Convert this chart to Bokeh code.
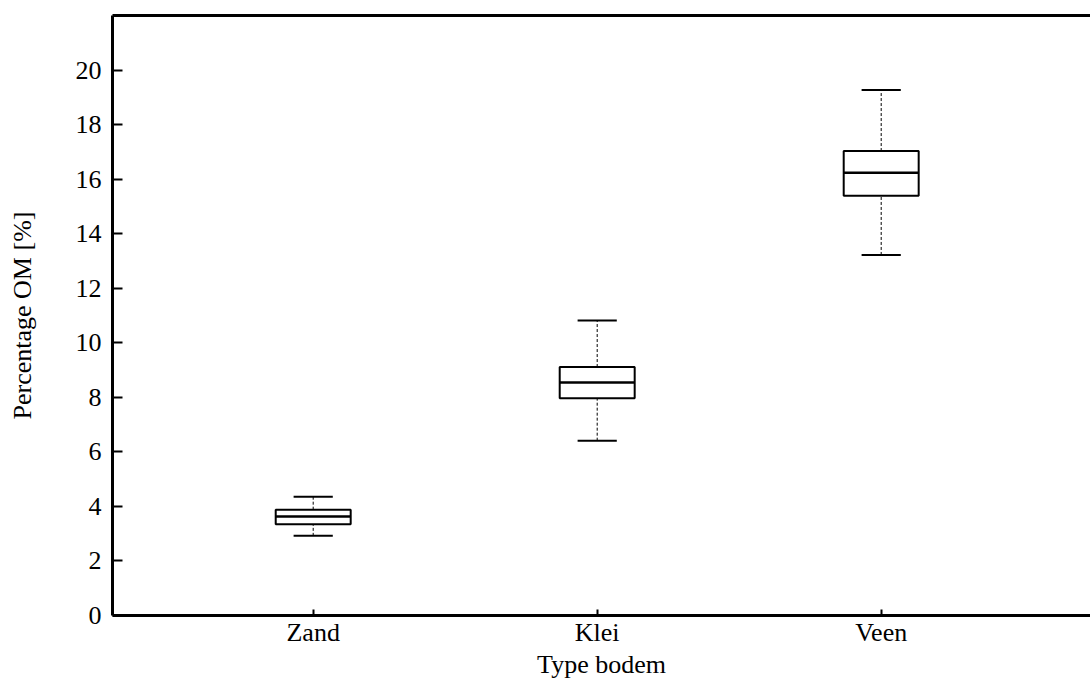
from bokeh.plotting import figure
from bokeh.models import Range1d, FixedTicker, LinearAxis
from bokeh.embed import file_html
from bokeh.resources import INLINE

categories = ["Zand", "Klei", "Veen"]
lower_whisker = [2.92, 6.41, 13.22]
q1 = [3.35, 7.97, 15.39]
median = [3.63, 8.54, 16.23]
q3 = [3.88, 9.11, 17.03]
upper_whisker = [4.35, 10.82, 19.27]
y_ticks = [0, 2, 4, 6, 8, 10, 12, 14, 16, 18, 20]

FONT = "Liberation Serif"
pos = [i + 1 for i in range(len(categories))]
box_half = 0.132
cap_half = 0.069

p = figure(width=1090, height=683, output_backend="svg", toolbar_location=None,
           x_range=Range1d(0.2933, 3.737), y_range=Range1d(0, 22),
           min_border_left=112, min_border_right=0, min_border_top=15, min_border_bottom=68)
p.outline_line_color = None
p.grid.visible = False
p.background_fill_color = "white"
p.border_fill_color = "white"

# whiskers (dashed)
p.segment(x0=pos, y0=q3, x1=pos, y1=upper_whisker, line_color="black", line_width=1, line_dash="3 2")
p.segment(x0=pos, y0=lower_whisker, x1=pos, y1=q1, line_color="black", line_width=1, line_dash="3 2")
# caps
p.segment(x0=[x - cap_half for x in pos], y0=upper_whisker, x1=[x + cap_half for x in pos], y1=upper_whisker,
          line_color="black", line_width=2)
p.segment(x0=[x - cap_half for x in pos], y0=lower_whisker, x1=[x + cap_half for x in pos], y1=lower_whisker,
          line_color="black", line_width=2)
# boxes
p.quad(left=[x - box_half for x in pos], right=[x + box_half for x in pos], bottom=q1, top=q3,
       fill_color="white", line_color="black", line_width=2)
# medians
p.segment(x0=[x - box_half for x in pos], y0=median, x1=[x + box_half for x in pos], y1=median,
          line_color="black", line_width=2.5)

# axes
xa = p.xaxis[0]
xa.ticker = FixedTicker(ticks=pos)
xa.major_label_overrides = {x: c for x, c in zip(pos, categories)}
xa.axis_label = "Type bodem"
ya = p.yaxis[0]
ya.ticker = FixedTicker(ticks=y_ticks)
ya.axis_label = "Percentage OM [%]"
for ax in (xa, ya):
    ax.axis_line_width = 3
    ax.axis_line_color = "black"
    ax.major_tick_line_width = 2
    ax.major_tick_line_color = "black"
    ax.major_tick_out = 0
    ax.minor_tick_line_color = None
    ax.major_label_text_font = FONT
    ax.major_label_text_font_size = "26px"
    ax.major_label_text_color = "black"
    ax.axis_label_text_font = FONT
    ax.axis_label_text_font_size = "26px"
    ax.axis_label_text_font_style = "normal"
    ax.axis_label_text_color = "black"
xa.major_tick_in = 6
ya.major_tick_in = 10
xa.major_label_standoff = 2
xa.axis_label_standoff = 0
ya.major_label_standoff = 11
ya.axis_label_standoff = 36

top = LinearAxis(ticker=FixedTicker(ticks=[]), axis_line_width=3, axis_line_color="black",
                 major_tick_in=0, major_tick_out=0, minor_tick_in=0, minor_tick_out=0,
                 major_label_text_font_size="0px", major_label_standoff=0)
p.add_layout(top, "above")

open("out.html", "w").write(file_html(p, INLINE))
